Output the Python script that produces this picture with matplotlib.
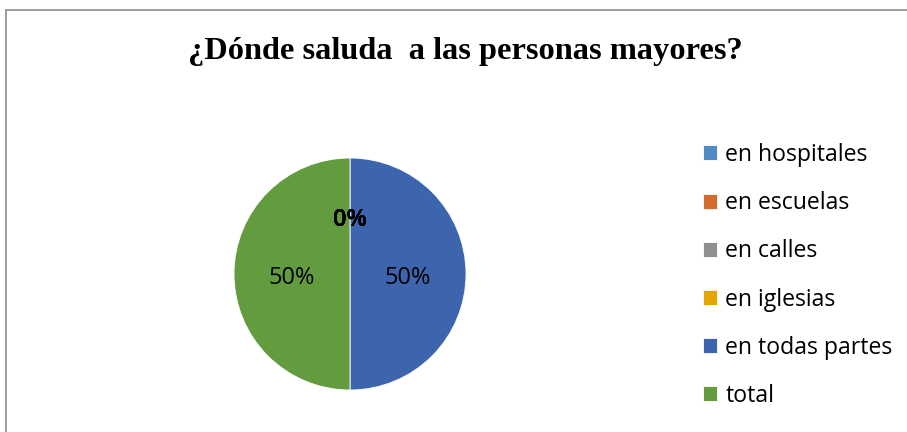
import matplotlib
matplotlib.use('Agg')
import matplotlib.pyplot as plt
from matplotlib.patches import Rectangle

# Data
categories = ["en hospitales", "en escuelas", "en calles", "en iglesias",
              "en todas partes", "total"]
values = [0, 0, 0, 0, 50, 50]
colors = ["#4F8BC4", "#D36B2B", "#8F8F8F", "#E3A800", "#3C65AE", "#639B3F"]
title = "¿Dónde saluda  a las personas mayores?"

W, H = 907, 432
fig = plt.figure(figsize=(W / 100, H / 100), dpi=100)

# chart frame (left and top edges visible)
fig.patches.append(Rectangle((6 / W, -0.1), 1.2, (H - 10) / H + 0.1,
                             transform=fig.transFigure, fill=False,
                             edgecolor="#8c8c8c", linewidth=1.2))

fig.text(465 / W, 1 - 51 / H, title, ha="center", va="center",
         family="Liberation Serif", fontweight="bold", fontsize=23.3)

# pie: centre (350, 274), radius 116 px
cx, cy, r = 350, 274, 116
ax = fig.add_axes([(cx - r) / W, (H - cy - r) / H, 2 * r / W, 2 * r / H])
wedges, texts, autotexts = ax.pie(
    values, colors=colors, startangle=90, counterclock=False,
    autopct="%1.0f%%", pctdistance=0.5, radius=1,
    wedgeprops=dict(edgecolor="white", linewidth=0.6),
    textprops=dict(family="Open Sans", fontsize=17, color="black"))
for v, t in zip(values, autotexts):
    # nudge labels down a few pixels to sit like the original
    x, y = t.get_position()
    t.set_position((x, y - 0.035))
    # the zero-slice labels pile up on one spot and read as bold
    if v == 0:
        t.set_fontweight("semibold")
ax.set_xlim(-1, 1)
ax.set_ylim(-1, 1)
ax.set_aspect("auto")
ax.axis("off")

fig.legend(wedges, categories, loc="upper left",
           bbox_to_anchor=(703 / W, 1 - 143 / H), frameon=False,
           prop=dict(family="Open Sans", size=16.6),
           handlelength=0.62, handleheight=0.62, handletextpad=0.35,
           labelspacing=1.05, borderpad=0, borderaxespad=0)

fig.savefig("out.png", dpi=100)
